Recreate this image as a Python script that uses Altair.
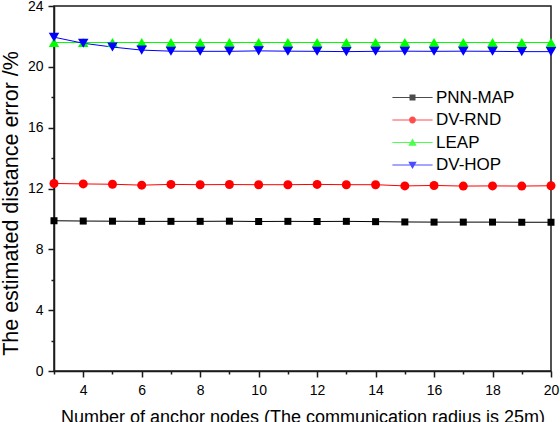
import altair as alt
import pandas as pd

# Number of anchor nodes on the x axis
anchors = list(range(3, 21))

series_names = ["PNN-MAP", "DV-RND", "LEAP", "DV-HOP"]

# Estimated distance error (%) for each method
pnn_map = [9.88, 9.86, 9.85, 9.84, 9.84, 9.84, 9.85, 9.83, 9.84, 9.83,
           9.84, 9.82, 9.80, 9.79, 9.79, 9.79, 9.78, 9.78]
dv_rnd = [12.33, 12.30, 12.28, 12.22, 12.27, 12.25, 12.26, 12.25, 12.25, 12.27,
          12.25, 12.25, 12.17, 12.20, 12.16, 12.17, 12.16, 12.18]
leap = [21.60, 21.60, 21.60, 21.60, 21.60, 21.60, 21.60, 21.60, 21.60, 21.60,
        21.60, 21.60, 21.60, 21.60, 21.60, 21.60, 21.60, 21.60]
dv_hop = [21.95, 21.55, 21.30, 21.10, 21.03, 21.02, 21.02, 21.05, 21.03, 21.02,
          21.00, 21.02, 21.03, 21.02, 21.03, 21.02, 21.00, 21.00]

x_tick_values = list(range(3, 21))
y_tick_values = list(range(0, 25, 2))

series_colors = ["#000000", "#ff0000", "#00ff00", "#0000ff"]
marker_shapes = ["square", "circle", "triangle-up", "triangle-down"]
marker_sizes = [49, 81, 110, 110]

# Legend glyphs: a short line segment with the series marker in its middle
legend_glyphs = [
    "M-6.7,-0.17H6.7V0.17H-6.7Z M-1.0,-1.0H1.0V1.0H-1.0Z",
    "M-6.7,-0.17H6.7V0.17H-6.7Z M-1.15,0A1.15,1.15 0 1,1 1.15,0A1.15,1.15 0 1,1 -1.15,0Z",
    "M-6.7,-0.17H6.7V0.17H-6.7Z M0,-1.3L1.4,1.05L-1.4,1.05Z",
    "M-6.7,-0.17H6.7V0.17H-6.7Z M0,1.3L-1.4,-1.05L1.4,-1.05Z",
]

values_by_series = [pnn_map, dv_rnd, leap, dv_hop]
rows = []
for name, vals in zip(series_names, values_by_series):
    for a, v in zip(anchors, vals):
        rows.append({"anchors": a, "error": v, "series": name})
df = pd.DataFrame(rows)

FONT = "Liberation Sans"
AXIS_COLOR = "#1a1a1a"

x_enc = alt.X(
    "anchors:Q",
    scale=alt.Scale(domain=[3, 20], nice=False, zero=False),
    axis=alt.Axis(
        values=x_tick_values,
        labelExpr="datum.value % 2 == 0 ? datum.label : ''",
        tickSize={"condition": {"test": "datum.value % 2 == 0", "value": 6}, "value": 3},
        labelOverlap=False,
        labelFlush=False,
        grid=False,
        title="Number of anchor nodes (The communication radius is 25m)",
        titleFontSize=18,
        titleFontWeight="normal",
        titlePadding=11,
        labelFontSize=14,
        labelPadding=6,
    ),
)
y_enc = alt.Y(
    "error:Q",
    scale=alt.Scale(domain=[0, 24], nice=False),
    axis=alt.Axis(
        values=y_tick_values,
        labelExpr="datum.value % 4 == 0 ? datum.label : ''",
        tickSize={"condition": {"test": "datum.value % 4 == 0", "value": 6}, "value": 3},
        labelOverlap=False,
        labelFlush=False,
        grid=False,
        title="The estimated distance error /%",
        titleFontSize=21.5,
        titleFontWeight="normal",
        titlePadding=5,
        titleY=197,
        labelFontSize=14,
        labelPadding=5,
    ),
)

base = alt.Chart(df)

# Line and marker layers, one pair per method
layers = []
for name, color in zip(series_names, series_colors):
    layers.append(
        base.transform_filter(alt.datum.series == name)
        .mark_line(strokeWidth=1, color=color)
        .encode(x=x_enc, y=y_enc)
    )
for name, color, shape, size in zip(series_names, series_colors, marker_shapes, marker_sizes):
    layers.append(
        base.transform_filter(alt.datum.series == name)
        .mark_point(filled=True, opacity=1, strokeWidth=0, shape=shape, size=size, color=color)
        .encode(x=x_enc, y=y_enc)
    )

legend_props = dict(
    title=None,
    orient="none",
    legendX=350,
    legendY=83,
    padding=0,
    symbolSize=36,
    symbolStrokeWidth=0,
    labelOffset=15,
    rowPadding=4.5,
    labelFont=FONT,
    labelFontSize=17,
    labelColor="#000000",
)

# Empty layer that only supplies the line-and-marker legend
legend_layer = (
    base.transform_filter(alt.datum.anchors < 0)
    .mark_point(filled=True, strokeWidth=0)
    .encode(
        x=x_enc,
        y=y_enc,
        color=alt.Color(
            "series:N",
            scale=alt.Scale(domain=series_names, range=series_colors),
            legend=alt.Legend(**legend_props),
        ),
        shape=alt.Shape(
            "series:N",
            scale=alt.Scale(domain=series_names, range=legend_glyphs),
            legend=alt.Legend(**legend_props),
        ),
    )
)
layers.append(legend_layer)

chart = (
    alt.layer(*layers)
    .properties(
        width=497,
        height=365,
        autosize="none",
        padding={"left": 54, "top": 6, "right": 9, "bottom": 51},
    )
    .configure(font=FONT)
    .configure_view(stroke=AXIS_COLOR, strokeWidth=1.5)
    .configure_axis(
        domainColor=AXIS_COLOR,
        domainWidth=1.5,
        tickColor=AXIS_COLOR,
        tickWidth=1.5,
        labelColor="#000000",
        titleColor="#000000",
        labelFont=FONT,
        titleFont=FONT,
    )
    .configure_legend(labelFont=FONT, labelFontSize=17, labelColor="#000000")
)

chart.save("out.html", embed_options={"renderer": "svg", "actions": False})
